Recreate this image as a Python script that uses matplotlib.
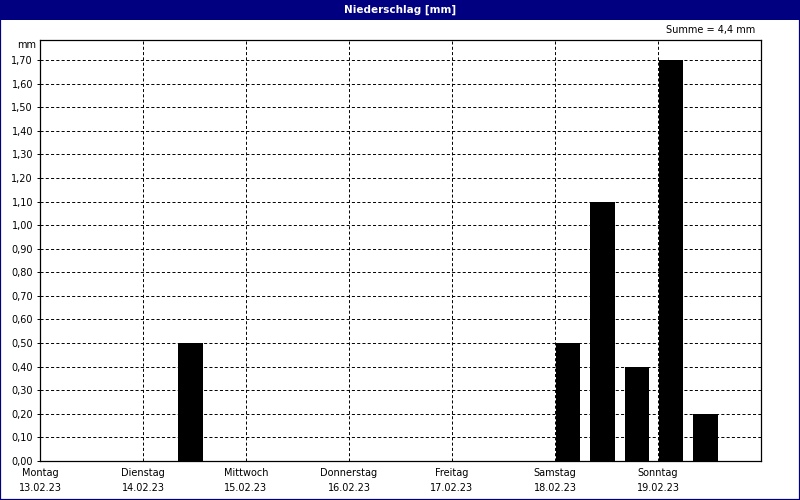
import matplotlib
matplotlib.use('Agg')
import matplotlib.pyplot as plt
from matplotlib.patches import Rectangle
import numpy as np

# precipitation per 8-hour slot, Mon 13.02.23 .. Sun 19.02.23 (3 slots per day)
rain = [0, 0, 0,
        0, 0.5, 0,
        0, 0, 0,
        0, 0, 0,
        0, 0, 0,
        0.5, 1.1, 0.4,
        1.7, 0.2, 0]
days = ['Montag', 'Dienstag', 'Mittwoch', 'Donnerstag', 'Freitag', 'Samstag', 'Sonntag']
dates = ['13.02.23', '14.02.23', '15.02.23', '16.02.23', '17.02.23', '18.02.23', '19.02.23']
title = 'Niederschlag [mm]'
navy = '#000080'

plt.rcParams['font.family'] = 'DejaVu Sans'
plt.rcParams['lines.scale_dashes'] = False

W, H = 800, 500
fig = plt.figure(figsize=(W / 100, H / 100), dpi=100)
fig.patch.set_facecolor('white')

# window title bar and frame
fig.patches.append(Rectangle((0, 1 - 20 / H), 1, 20 / H, transform=fig.transFigure,
                             facecolor=navy, edgecolor='none', zorder=0))
fig.patches.append(Rectangle((0, 0), 1, 1, transform=fig.transFigure, fill=False,
                             edgecolor=navy, linewidth=1.6, zorder=5))
fig.text(0.5, 1 - 10 / H, title, color='white', fontsize=7.5, fontweight='bold',
         ha='center', va='center')

ax = fig.add_axes([40 / W, 39 / H, 721 / W, 421 / H])
n = len(rain)
x = np.arange(n)
ymax = max(rain) * 1.05
ax.bar(x + 0.03, rain, width=0.71, align='edge', color='black', zorder=3)

ax.set_xlim(0, n)
ax.set_ylim(0, ymax)

yt = np.round(np.arange(0, max(rain) + 0.05, 0.1), 2)
ax.set_yticks(yt)
ax.set_yticklabels([f'{v:.2f}'.replace('.', ',') for v in yt], fontsize=7)
ax.set_xticks(np.arange(0, n, 3))
ax.set_xticklabels([f'{d}\n{t}' for d, t in zip(days, dates)], fontsize=7,
                   linespacing=1.6)
ax.tick_params(axis='x', length=0, pad=5)
ax.tick_params(axis='y', length=2, width=0.7, pad=3)

dash = (0, (2.2, 1.6))
for v in yt[1:]:
    ax.axhline(v, color='black', lw=0.7, ls=dash, zorder=1)
for d in np.arange(3, n, 3):
    ax.axvline(d, color='black', lw=0.7, ls=dash, zorder=1)

for s in ax.spines.values():
    s.set_linewidth(0.9)

ax.text(-0.006, ymax - 5 / 421 * ymax, 'mm', transform=ax.get_yaxis_transform(),
        ha='right', va='center', fontsize=7)
fig.text(755 / W, 1 - 30 / H, 'Summe = ' + f'{sum(rain):.1f}'.replace('.', ',') + ' mm',
         ha='right', va='center', fontsize=7)

fig.savefig('out.png', dpi=100)
